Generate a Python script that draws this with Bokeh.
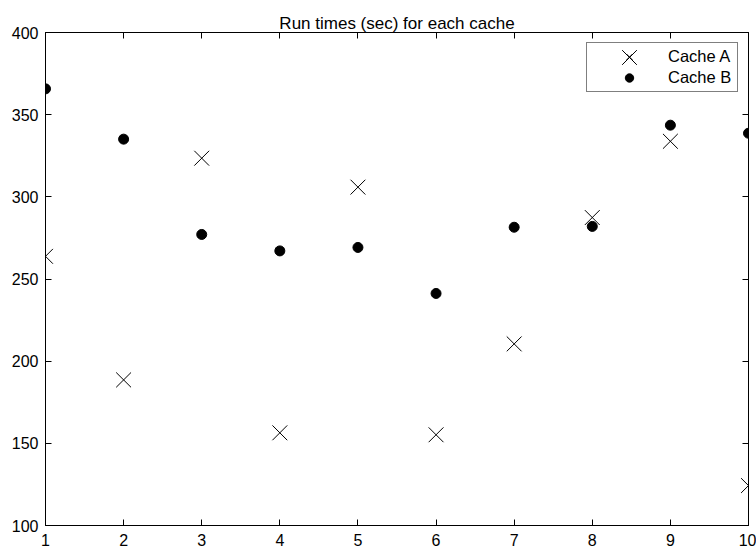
from bokeh.plotting import figure
from bokeh.models import LinearAxis, FixedTicker, Legend, LegendItem, Range1d
from bokeh.embed import file_html
from bokeh.resources import INLINE

# ---- data ----
runs = [1, 2, 3, 4, 5, 6, 7, 8, 9, 10]
cache_a = [263.8, 188.6, 323.5, 156.4, 305.9, 155.2, 210.5, 287.4, 333.8, 124.3]
cache_b = [365.7, 335.1, 277.1, 267.1, 269.2, 241.2, 281.5, 282.0, 343.6, 338.7]
x_ticks = [1, 2, 3, 4, 5, 6, 7, 8, 9, 10]
y_ticks = [100, 150, 200, 250, 300, 350, 400]
title_text = "Run times (sec) for each cache"
series_names = ["Cache A", "Cache B"]

FONT = "Liberation Sans"

p = figure(
    frame_width=703, frame_height=493,
    x_range=Range1d(1, 10), y_range=Range1d(100, 400),
    output_backend="svg", toolbar_location=None,
    min_border_left=45, min_border_right=8, min_border_top=32, min_border_bottom=21,
    background_fill_color="white", border_fill_color="white",
    outline_line_color="black", outline_line_width=1,
)
p.xgrid.visible = False
p.ygrid.visible = False

p.title.text = title_text
p.title.text_font = FONT
p.title.text_font_size = "17px"
p.title.text_font_style = "normal"
p.title.text_color = "black"
p.title.align = "center"
p.title.offset = 3
p.title.standoff = 0


def style_axis(ax, ticks, labels=True, standoff=7):
    ax.ticker = FixedTicker(ticks=ticks)
    ax.axis_line_color = "black"
    ax.axis_line_width = 1
    ax.major_tick_in = 6
    ax.major_tick_out = 0
    ax.major_tick_line_color = "black"
    ax.minor_tick_line_color = None
    if labels:
        ax.major_label_text_font = FONT
        ax.major_label_text_font_size = "16px"
        ax.major_label_text_color = "black"
    else:
        ax.major_label_text_font_size = "1px"
        ax.major_label_text_color = None
    ax.major_label_standoff = standoff


style_axis(p.xaxis[0], x_ticks, True, 8)
style_axis(p.yaxis[0], y_ticks, True, 7)

top_axis = LinearAxis()
style_axis(top_axis, x_ticks, False, 5)
p.add_layout(top_axis, "above")
right_axis = LinearAxis()
style_axis(right_axis, y_ticks, False, 0)
p.add_layout(right_axis, "right")

r_a = p.scatter(runs, cache_a, marker="x", size=21, line_color="black", line_width=1)
r_b = p.scatter(runs, cache_b, marker="circle", size=10, fill_color="black", line_color="black")

legend = Legend(
    items=[LegendItem(label=series_names[0], renderers=[r_a]),
           LegendItem(label=series_names[1], renderers=[r_b])],
    location=(541, 433), orientation="vertical",
    padding=3, spacing=0, margin=0,
    glyph_height=21, glyph_width=78, label_standoff=0,
    label_width=66, label_height=21,
    border_line_color="black", border_line_width=1,
    background_fill_color="white", background_fill_alpha=1,
    label_text_font=FONT, label_text_font_size="16.5px", label_text_color="black",
)
p.add_layout(legend)

# larger legend marker for Cache A drawn over the small one
legend_big = Legend(
    items=[LegendItem(label=" ", renderers=[r_a])],
    location=(558, 442), padding=0, spacing=0, margin=0,
    glyph_height=52, glyph_width=52, label_standoff=0, label_width=0,
    border_line_color=None, background_fill_alpha=0,
    label_text_color=None, label_text_font_size="1px",
)
p.add_layout(legend_big)

open("out.html", "w").write(file_html(p, INLINE))
